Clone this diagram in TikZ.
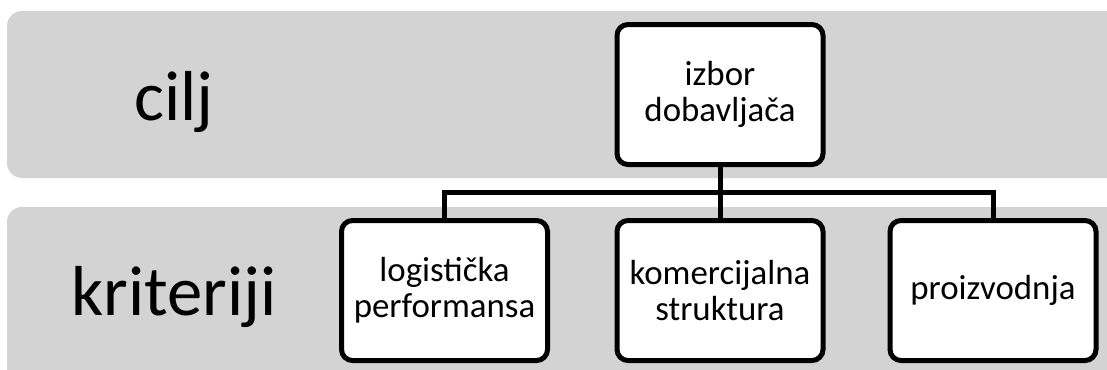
\documentclass[tikz,border=0pt]{standalone}
\usepackage{fontspec}
\setmainfont{Carlito}
\definecolor{bandgray}{RGB}{211,211,211}
\begin{document}
\begin{tikzpicture}[x=1bp,y=-1bp,
  band/.style={fill=bandgray, rounded corners=15bp},
  bigtxt/.style={anchor=base, font=\fontsize{71}{80}\selectfont},
  boxnode/.style={draw, line width=5bp, fill=white, rounded corners=11bp,
    minimum width=206bp, minimum height=140bp, inner sep=0pt, align=center,
    font=\fontsize{35}{36.5}\selectfont},
  conn/.style={line width=5bp}]
\useasboundingbox (0,0) rectangle (1107,369);
\fill[band] (7,11) rectangle (1140,178);
\fill[band] (7,207) rectangle (1140,400);
\node[bigtxt] (lcilj) at (174,120) {cilj};
\node[bigtxt] (lkrit) at (174,315) {kriteriji};
\node[boxnode] (top) at (720,94.5) {izbor\\dobavljača};
\node[boxnode] (b1) at (444.5,290.5) {logistička\\performansa};
\node[boxnode] (b2) at (720,290.5) {komercijalna\\struktura};
\node[boxnode] (b3) at (993,290.5) {proizvodnja};
\coordinate (j) at (720,192.5);
\draw[conn] (top.south) -- (j);
\draw[conn] (j) -- (b2.north);
\draw[conn] (b1.north) |- (j) -| (b3.north);
\end{tikzpicture}
\end{document}
